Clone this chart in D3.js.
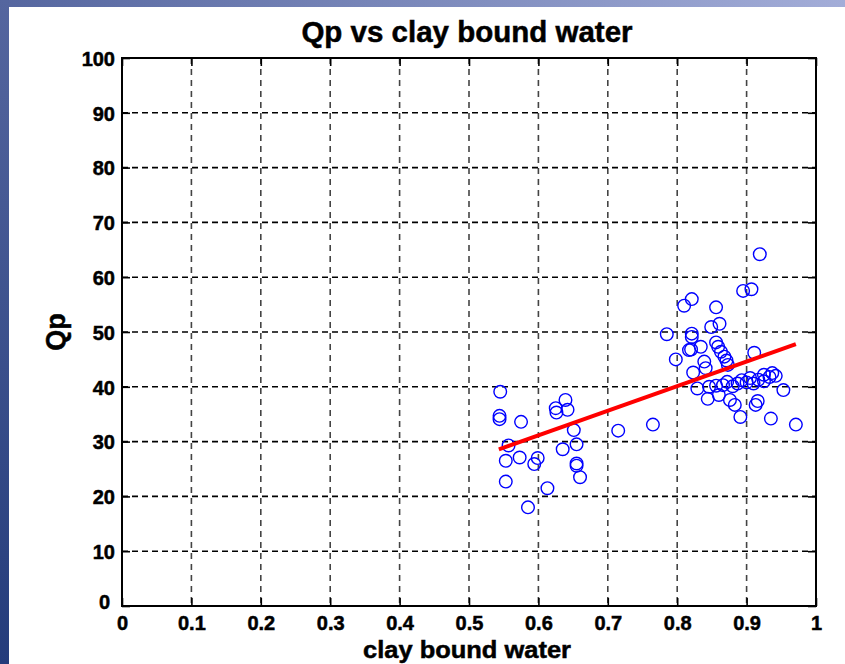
<!DOCTYPE html>
<html>
<head>
<meta charset="utf-8">
<script src="https://cdn.jsdelivr.net/npm/d3@7"></script>
<style>
  html, body { margin: 0; padding: 0; background: #fff; }
  svg { display: block; }
  text.lbl { font-family: "Liberation Sans", Arial, Helvetica, sans-serif; font-weight: bold; fill: #000; stroke: #000; stroke-width: 0.5px; }
</style>
</head>
<body>
<svg id="chart" width="845" height="664"></svg>
<script>
// Clay bound water (x) against Qp (y) for each sample
const clayBoundWater = [
  0.545, 0.544, 0.544, 0.575, 0.557, 0.553, 0.573, 0.553, 0.585, 0.594,
  0.599, 0.613, 0.625, 0.639, 0.642, 0.626, 0.651, 0.655, 0.635, 0.655,
  0.655, 0.660, 0.715, 0.765,
  0.919, 0.895, 0.907, 0.810, 0.821, 0.856, 0.785, 0.821, 0.821, 0.849,
  0.861, 0.834, 0.817, 0.820, 0.856, 0.859, 0.863, 0.868, 0.871, 0.873,
  0.798, 0.839, 0.841, 0.823, 0.911, 0.829, 0.846, 0.844, 0.860, 0.883,
  0.891, 0.913, 0.916, 0.935, 0.971, 0.953, 0.937, 0.925, 0.876,
  0.856, 0.866, 0.872, 0.880, 0.887, 0.893, 0.900, 0.905, 0.910, 0.917,
  0.925, 0.933, 0.942
];
const qp = [
  39.1, 34.7, 34.1, 33.6, 29.3, 26.5, 27.1, 22.7, 18.0, 25.9,
  27.0, 21.5, 36.1, 37.6, 35.8, 35.3, 32.1, 29.5, 28.6, 26.0,
  25.6, 23.5, 32.0, 33.1,
  64.2, 57.5, 57.8, 54.8, 56.0, 54.5, 49.6, 49.7, 49.1, 50.9,
  51.5, 47.3, 46.7, 46.8, 48.1, 47.3, 46.4, 45.5, 44.8, 44.0,
  45.0, 44.6, 43.4, 42.6, 46.2, 39.7, 40.0, 37.8, 38.5, 36.7,
  34.5, 36.7, 37.4, 34.2, 33.1, 39.4, 42.5, 42.2, 37.6,
  40.2, 40.3, 40.9, 40.1, 40.6, 41.2, 40.8, 41.6, 40.6, 41.3,
  41.0, 41.8, 42.0
];

// Least-squares fit line, drawn between its two end points
const fitX = [0.543, 0.971];
const fitY = [28.6, 47.8];

// Axis ticks
const xTicks = [0, 0.1, 0.2, 0.3, 0.4, 0.5, 0.6, 0.7, 0.8, 0.9, 1];
const xTickLabels = ["0", "0.1", "0.2", "0.3", "0.4", "0.5", "0.6", "0.7", "0.8", "0.9", "1"];
const yTicks = [0, 10, 20, 30, 40, 50, 60, 70, 80, 90, 100];
const yTickLabels = ["0", "10", "20", "30", "40", "50", "60", "70", "80", "90", "100"];

const titleText = "Qp vs clay bound water";
const xLabelText = "clay bound water";
const yLabelText = "Qp";

const svg = d3.select("#chart");
const W = 845, H = 664;
const plot = { left: 122, right: 816, top: 58, bottom: 606 };

// Slide-style frame: gradient bands along the left and top edges
const defs = svg.append("defs");
const gLeft = defs.append("linearGradient").attr("id", "bandLeft")
  .attr("x1", 0).attr("y1", 0).attr("x2", 0).attr("y2", 1);
gLeft.append("stop").attr("offset", 0).attr("stop-color", "#55669f");
gLeft.append("stop").attr("offset", 1).attr("stop-color", "#243c7b");
const gTop = defs.append("linearGradient").attr("id", "bandTop")
  .attr("x1", 0).attr("y1", 0).attr("x2", 1).attr("y2", 0);
gTop.append("stop").attr("offset", 0).attr("stop-color", "#55669f");
gTop.append("stop").attr("offset", 1).attr("stop-color", "#a3add8");

svg.append("rect").attr("x", 0).attr("y", 0).attr("width", W).attr("height", H).attr("fill", "#fff");
svg.append("rect").attr("x", 0).attr("y", 0).attr("width", W).attr("height", 7).attr("fill", "url(#bandTop)");
svg.append("rect").attr("x", 0).attr("y", 0).attr("width", 9).attr("height", H).attr("fill", "url(#bandLeft)");

const x = d3.scaleLinear().domain([0, 1]).range([plot.left, plot.right]);
const y = d3.scaleLinear().domain([0, 100]).range([plot.bottom, plot.top]);

// Dashed grid
const grid = svg.append("g");
grid.selectAll("line.gx").data(xTicks.slice(1, -1)).join("line")
  .attr("x1", d => x(d)).attr("x2", d => x(d))
  .attr("y1", plot.top).attr("y2", plot.bottom)
  .attr("stroke", "#444").attr("stroke-width", 1.6).attr("stroke-dasharray", "6,5");
grid.selectAll("line.gy").data(yTicks.slice(1, -1)).join("line")
  .attr("x1", plot.left).attr("x2", plot.right)
  .attr("y1", d => y(d)).attr("y2", d => y(d))
  .attr("stroke", "#000").attr("stroke-width", 1.6).attr("stroke-dasharray", "6,4");

// Axes with inward ticks on all four sides
const tickLen = 8;
const fmtX = (d, i) => xTickLabels[i];
const fmtY = (d, i) => yTickLabels[i];

const axB = svg.append("g").attr("transform", `translate(0,${plot.bottom})`)
  .call(d3.axisBottom(x).tickValues(xTicks).tickFormat(fmtX).tickSizeInner(-tickLen).tickSizeOuter(0).tickPadding(0));
const axL = svg.append("g").attr("transform", `translate(${plot.left},0)`)
  .call(d3.axisLeft(y).tickValues(yTicks).tickFormat(fmtY).tickSizeInner(-tickLen).tickSizeOuter(0).tickPadding(0));
const axT = svg.append("g").attr("transform", `translate(0,${plot.top})`)
  .call(d3.axisTop(x).tickValues(xTicks).tickFormat("").tickSizeInner(-tickLen).tickSizeOuter(0));
const axR = svg.append("g").attr("transform", `translate(${plot.right},0)`)
  .call(d3.axisRight(y).tickValues(yTicks).tickFormat("").tickSizeInner(-tickLen).tickSizeOuter(0));

[axB, axL, axT, axR].forEach(a => {
  a.attr("font-size", null).attr("font-family", null);
  a.select(".domain").remove();
  a.selectAll(".tick line").attr("stroke", "#000").attr("stroke-width", 1.6);
});
axB.selectAll(".tick text")
  .attr("class", "lbl").attr("y", 24).attr("dy", null)
  .style("font-size", "20px");
axL.selectAll(".tick text")
  .attr("class", "lbl").attr("x", -7).attr("dy", "0.36em")
  .style("font-size", "20px");
// the zero on the y axis sits a little higher, clear of the x labels
axL.selectAll(".tick text").filter(d => d === 0).attr("dy", "0.12em").attr("x", -12);

// Plot frame
svg.append("rect")
  .attr("x", plot.left).attr("y", plot.top)
  .attr("width", plot.right - plot.left).attr("height", plot.bottom - plot.top)
  .attr("fill", "none").attr("stroke", "#000").attr("stroke-width", 2);

// Sample points
svg.append("g").selectAll("circle").data(clayBoundWater).join("circle")
  .attr("cx", d => x(d))
  .attr("cy", (d, i) => y(qp[i]))
  .attr("r", 6.3)
  .attr("fill", "none").attr("stroke", "#0000ff").attr("stroke-width", 1.4);

// Fit line
const line = d3.line().x(d => x(d[0])).y(d => y(d[1]));
svg.append("path")
  .datum(fitX.map((v, i) => [v, fitY[i]]))
  .attr("d", line)
  .attr("fill", "none").attr("stroke", "#ff0000").attr("stroke-width", 4);

// Title and axis labels
svg.append("text").attr("class", "lbl").attr("x", 467).attr("y", 42).attr("text-anchor", "middle")
  .style("font-size", "29.5px").text(titleText);
svg.append("text").attr("class", "lbl").attr("x", 467).attr("y", 658).attr("text-anchor", "middle")
  .attr("textLength", 208).attr("lengthAdjust", "spacingAndGlyphs")
  .style("font-size", "24px").text(xLabelText);
svg.append("text").attr("class", "lbl").attr("transform", `translate(65,332) rotate(-90)`).attr("text-anchor", "middle")
  .style("font-size", "27px").text(yLabelText);
</script>
</body>
</html>
